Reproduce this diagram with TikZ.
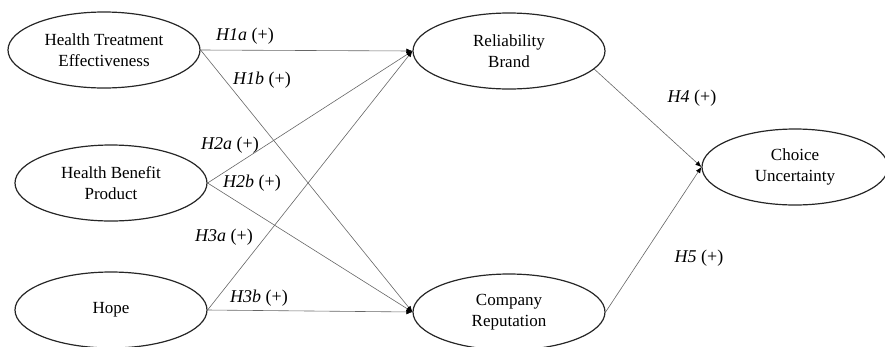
\documentclass[tikz,border=0pt]{standalone}
\usepackage{fontspec}
\setmainfont{Liberation Serif}
\usetikzlibrary{shapes.geometric,arrows.meta}
\begin{document}
\begin{tikzpicture}[x=1pt,y=-1pt,
  construct/.style={ellipse,draw=black!85,line width=1.2pt,minimum width=192pt,minimum height=76pt,inner sep=0pt,align=center,font=\fontsize{17}{21}\selectfont},
  path/.style={draw=black!60,line width=0.6pt,-{Latex[length=6pt,width=5pt,color=black]}},
  hyp/.style={font=\fontsize{18}{21}\selectfont,inner sep=0pt}]
\useasboundingbox (0,0) rectangle (885,346);
\node[construct] (hte) at (104,50) {Health Treatment\\Effectiveness};
\node[construct] (hbp) at (111,183) {Health Benefit\\Product};
\node[construct] (hope) at (111,310) {Hope};
\node[construct] (rb) at (509,51) {Reliability\\Brand};
\node[construct] (cr) at (509,312) {Company\\Reputation};
\node[construct,minimum width=186pt] (cu) at (795,167) {Choice\\Uncertainty};
\draw[path] (hte.east) -- (rb.west);
\draw[path] (hte.east) -- (cr.west);
\draw[path] (hbp.east) -- (rb.west);
\draw[path] (hbp.east) -- (cr.west);
\draw[path] (hope.east) -- (rb.west);
\draw[path] (hope.east) -- (cr.west);
\draw[path] (rb.-12) -- (cu.west);
\draw[path] (cr.east) -- (cu.west);
\node[hyp] (l1a) at (245,36) {\textit{H1a} (+)};
\node[hyp] (l1b) at (262,80) {\textit{H1b} (+)};
\node[hyp] (l2a) at (230,145) {\textit{H2a} (+)};
\node[hyp] (l2b) at (252,183) {\textit{H2b} (+)};
\node[hyp] (l3a) at (224,237) {\textit{H3a} (+)};
\node[hyp] (l3b) at (259,298) {\textit{H3b} (+)};
\node[hyp] (l4) at (692,98) {\textit{H4} (+)};
\node[hyp] (l5) at (699,258) {\textit{H5} (+)};
\end{tikzpicture}
\end{document}
